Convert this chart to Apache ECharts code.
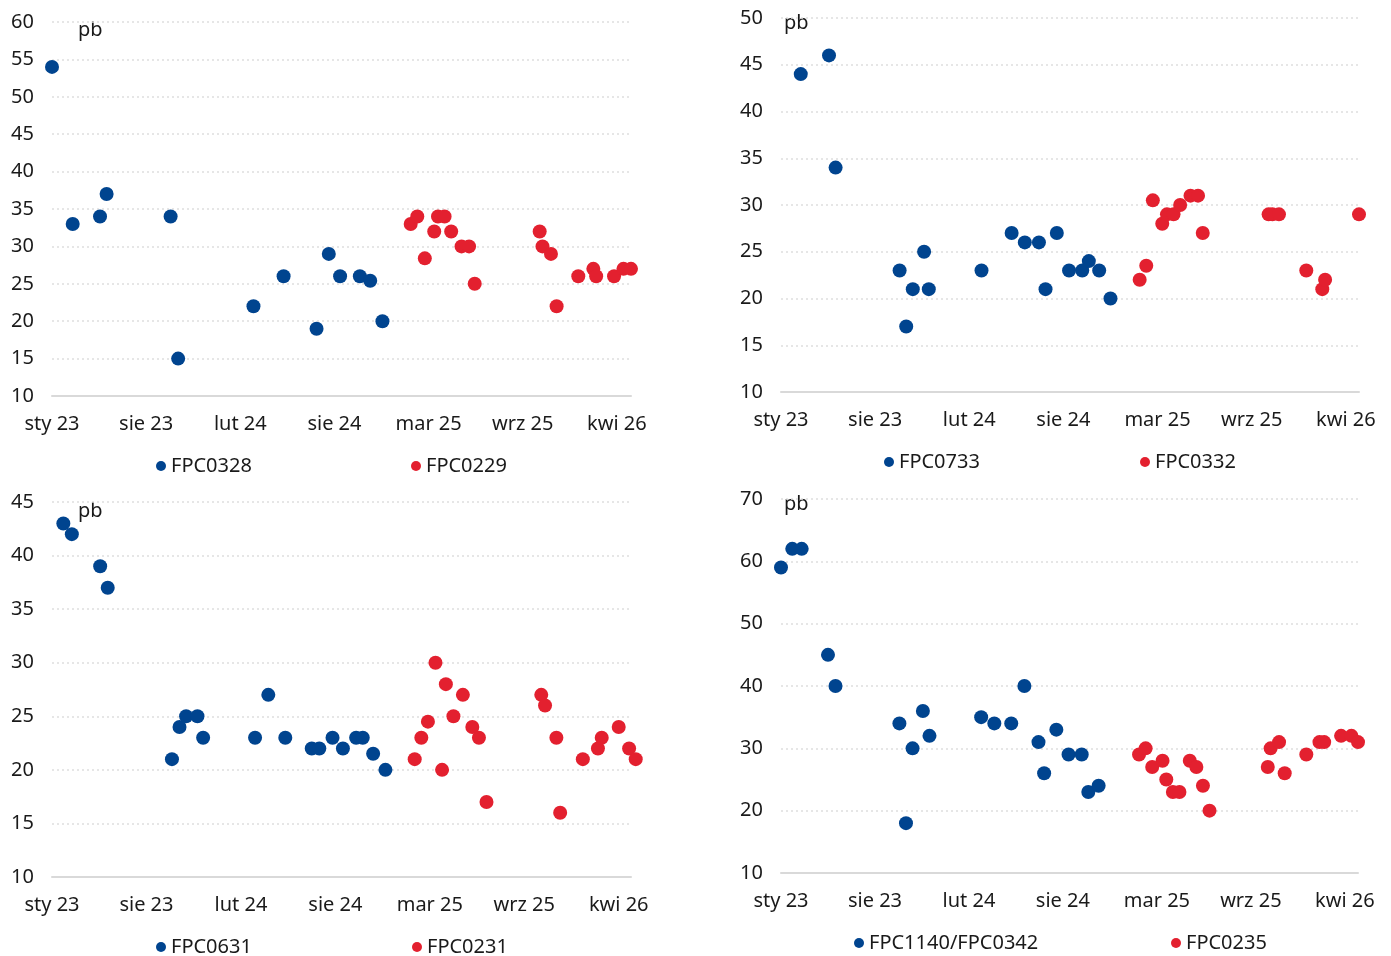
<!DOCTYPE html>
<html>
<head>
<meta charset="utf-8">
<script src="https://cdn.jsdelivr.net/npm/echarts@6/dist/echarts.min.js"></script>
<style>
html,body{margin:0;padding:0;background:#fff;}
#chart{width:1391px;height:956px;}
</style>
</head>
<body>
<div id="chart"></div>
<script>
var xLabels = ['sty 23', 'sie 23', 'lut 24', 'sie 24', 'mar 25', 'wrz 25', 'kwi 26'];

// x = position on the date axis in label steps (0 = sty 23 ... 6 = kwi 26), y = spread in pb
var fpc0328 = [[0,54],[0.22,33],[0.51,34],[0.58,37],[1.26,34],[1.34,15],[2.14,22],[2.46,26],[2.81,19],[2.94,29],[3.06,26],[3.27,26],[3.38,25.4],[3.51,20]];
var fpc0229 = [[3.81,33],[3.88,34],[3.96,28.4],[4.06,32],[4.10,34],[4.17,34],[4.24,32],[4.35,30],[4.43,30],[4.49,25],[5.18,32],[5.21,30],[5.30,29],[5.36,22],[5.59,26],[5.75,27],[5.78,26],[5.97,26],[6.07,27],[6.15,27]];

var fpc0733 = [[0.21,44],[0.51,46],[0.58,34],[1.26,23],[1.33,17],[1.40,21],[1.52,25],[1.57,21],[2.13,23],[2.45,27],[2.59,26],[2.74,26],[2.81,21],[2.93,27],[3.06,23],[3.20,23],[3.27,24],[3.38,23],[3.50,20]];
var fpc0332 = [[3.81,22],[3.88,23.5],[3.95,30.5],[4.05,28],[4.10,29],[4.17,29],[4.24,30],[4.35,31],[4.43,31],[4.48,27],[5.18,29],[5.22,29],[5.29,29],[5.58,23],[5.75,21],[5.78,22],[6.14,29]];

var fpc0631 = [[0.12,43],[0.21,42],[0.51,39],[0.59,37],[1.27,21],[1.35,24],[1.42,25],[1.54,25],[1.60,23],[2.15,23],[2.29,27],[2.47,23],[2.75,22],[2.83,22],[2.97,23],[3.08,22],[3.22,23],[3.29,23],[3.40,21.5],[3.53,20]];
var fpc0231 = [[3.84,21],[3.91,23],[3.98,24.5],[4.06,30],[4.13,20],[4.17,28],[4.25,25],[4.35,27],[4.45,24],[4.52,23],[4.60,17],[5.18,27],[5.22,26],[5.34,23],[5.38,16],[5.62,21],[5.78,22],[5.82,23],[6.00,24],[6.11,22],[6.18,21]];

var fpc1140 = [[0,59],[0.12,62],[0.22,62],[0.50,45],[0.58,40],[1.26,34],[1.33,18],[1.40,30],[1.51,36],[1.58,32],[2.13,35],[2.27,34],[2.45,34],[2.59,40],[2.74,31],[2.80,26],[2.93,33],[3.06,29],[3.20,29],[3.27,23],[3.38,24]];
var fpc0235 = [[3.81,29],[3.88,30],[3.95,27],[4.06,28],[4.10,25],[4.17,23],[4.24,23],[4.35,28],[4.42,27],[4.49,24],[4.56,20],[5.18,27],[5.21,30],[5.30,31],[5.36,26],[5.59,29],[5.73,31],[5.78,31],[5.96,32],[6.07,32],[6.14,31]];

var blue = '#00448f';
var red = '#e3202f';
var textColor = '#1a1a1a';
var font = 'Noto Sans';
var fontSize = 20;

var panels = [
    {grid: {left: 52, top: 22, width: 579, height: 374}, yMin: 10, yMax: 60, yStep: 5, xMax: 6.15,
     series: [['FPC0328', fpc0328, blue], ['FPC0229', fpc0229, red]], legendLeft: [151, 406], legendTop: 451, pb: [78, 20]},
    {grid: {left: 781, top: 18, width: 578, height: 374}, yMin: 10, yMax: 50, yStep: 5, xMax: 6.14,
     series: [['FPC0733', fpc0733, blue], ['FPC0332', fpc0332, red]], legendLeft: [879, 1135], legendTop: 447, pb: [784, 13]},
    {grid: {left: 52, top: 502, width: 579, height: 375}, yMin: 10, yMax: 45, yStep: 5, xMax: 6.13,
     series: [['FPC0631', fpc0631, blue], ['FPC0231', fpc0231, red]], legendLeft: [151, 407], legendTop: 932, pb: [78, 501]},
    {grid: {left: 781, top: 499, width: 577, height: 374}, yMin: 10, yMax: 70, yStep: 10, xMax: 6.14,
     series: [['FPC1140/FPC0342', fpc1140, blue], ['FPC0235', fpc0235, red]], legendLeft: [849, 1166], legendTop: 928, pb: [784, 494]}
];

var option = {
    backgroundColor: '#fff',
    animation: false,
    textStyle: {fontFamily: font},
    grid: [], xAxis: [], yAxis: [], series: [], legend: [], graphic: []
};

panels.forEach(function (p, i) {
    option.grid.push(p.grid);
    option.xAxis.push({
        type: 'value', gridIndex: i, min: 0, max: p.xMax, interval: 1,
        axisLine: {show: true, lineStyle: {color: '#d9d9d9', width: 2}},
        axisTick: {show: false},
        splitLine: {show: false},
        axisLabel: {
            color: textColor, fontSize: fontSize, fontFamily: font, margin: 18,
            showMinLabel: true, showMaxLabel: true,
            formatter: function (v) {
                return (Math.abs(v - Math.round(v)) < 1e-6 && xLabels[Math.round(v)]) || '';
            }
        }
    });
    option.yAxis.push({
        type: 'value', gridIndex: i, min: p.yMin, max: p.yMax, interval: p.yStep,
        axisLine: {show: false},
        axisTick: {show: false},
        splitLine: {show: true, lineStyle: {color: '#dedede', width: 1.5, type: [2, 3]}},
        axisLabel: {color: textColor, fontSize: fontSize, fontFamily: font, margin: 18}
    });
    p.series.forEach(function (s, j) {
        option.series.push({
            name: s[0], type: 'scatter', xAxisIndex: i, yAxisIndex: i,
            data: s[1], symbol: 'circle', symbolSize: 14, clip: false,
            itemStyle: {color: s[2], opacity: 1}
        });
        option.legend.push({
            data: [s[0]], left: p.legendLeft[j], top: p.legendTop,
            icon: 'circle', itemWidth: 10, itemHeight: 10, itemGap: 0,
            selectedMode: false,
            textStyle: {color: textColor, fontSize: fontSize, fontFamily: font}
        });
    });
    option.graphic.push({
        type: 'text', left: p.pb[0], top: p.pb[1],
        style: {text: 'pb', fill: textColor, fontSize: fontSize, fontFamily: font}
    });
});

var myChart = echarts.init(document.getElementById('chart'));
myChart.setOption(option);
</script>
</body>
</html>
